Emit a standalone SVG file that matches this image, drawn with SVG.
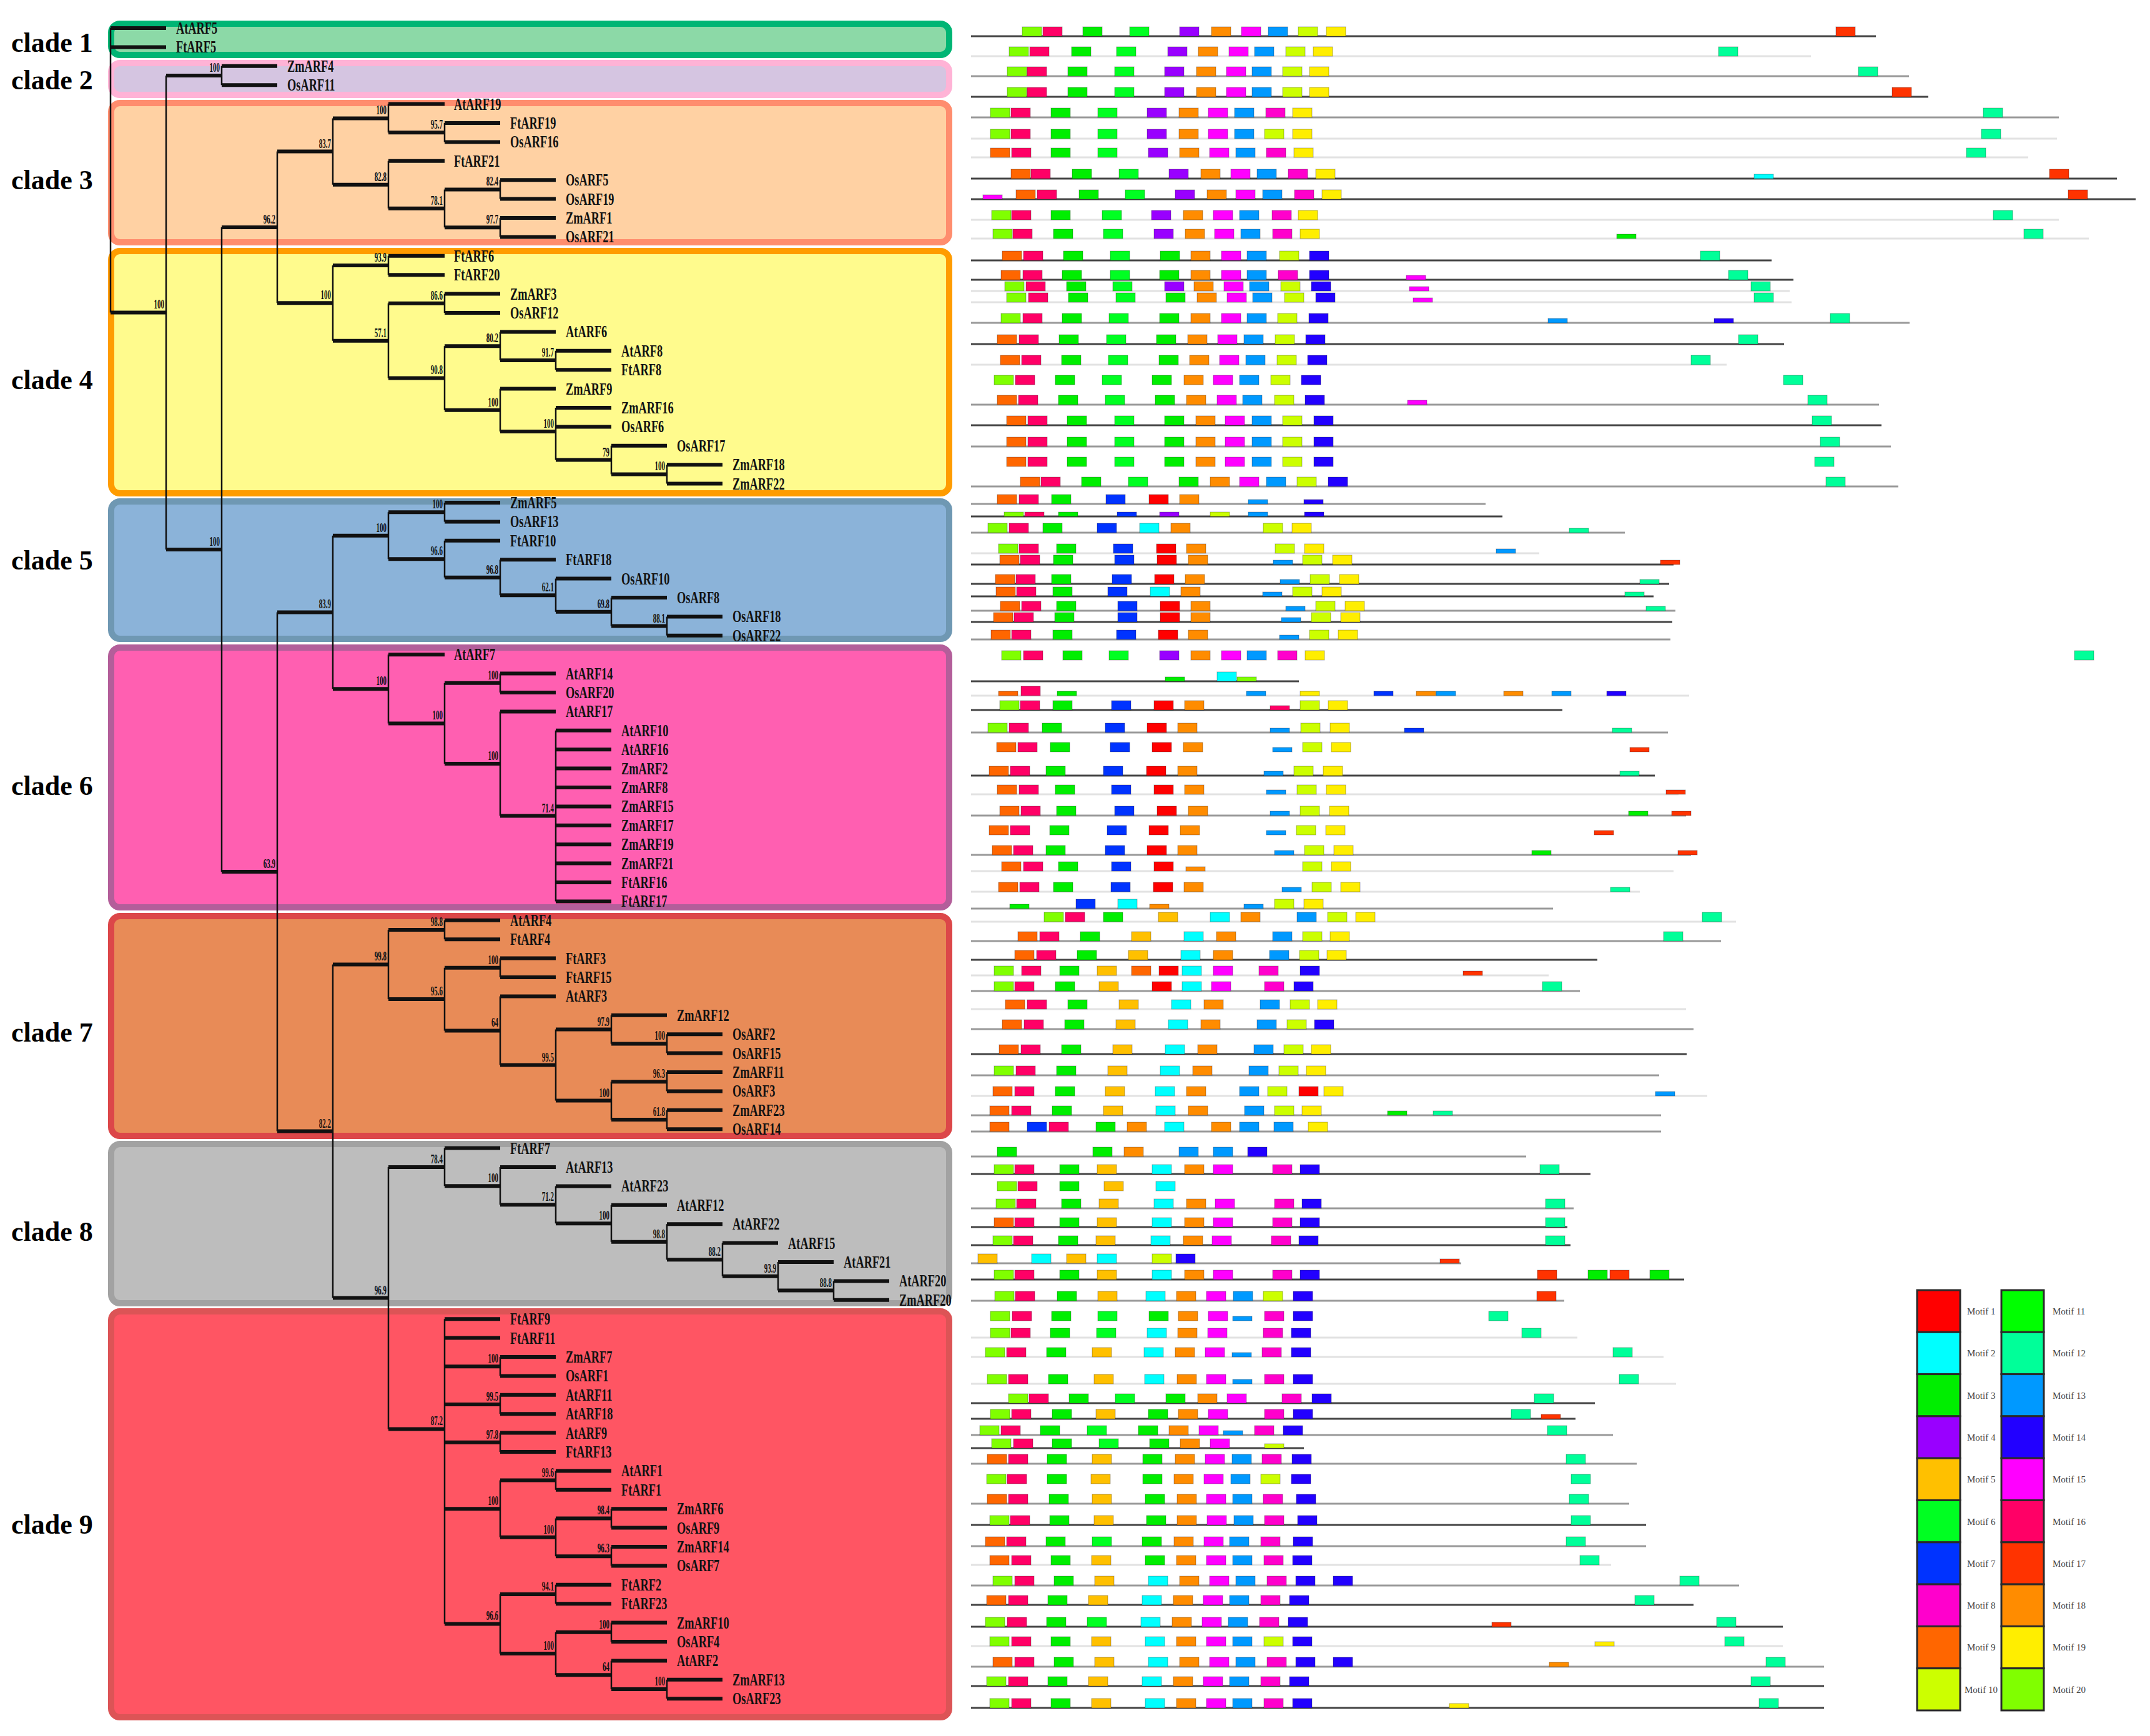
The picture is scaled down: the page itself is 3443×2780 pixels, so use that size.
<svg xmlns="http://www.w3.org/2000/svg" width="3443" height="2780" viewBox="0 0 3443 2780">
<style>
.cl{font:bold 44px "Liberation Serif",serif;fill:#000}
.lf text{font:bold 27px "Liberation Serif",serif;fill:#111}
.bs text{font:bold 22px "Liberation Serif",serif;fill:#111;text-anchor:end}
.lg text{font:15px "Liberation Serif",serif;fill:#444}
.lg rect{stroke:#2a2a2a;stroke-width:3}
.h{stroke:#111;stroke-width:6;fill:none}
.v{stroke:#111;stroke-width:2.5;fill:none}
.ld{stroke:#444;stroke-width:3;fill:none}
.lm{stroke:#999;stroke-width:3;fill:none}
.ll{stroke:#e2e2e2;stroke-width:3;fill:none}
.m rect{width:31px;height:15px;y:-15px;stroke:#000;stroke-opacity:.3;stroke-width:1}
.m rect.s{height:7px;y:-7px}
.c1{fill:#ff0000}.c2{fill:#00ffff}.c3{fill:#00ee00}.c4{fill:#9900ff}.c5{fill:#ffc000}.c6{fill:#00ff22}.c7{fill:#0033ff}.c8{fill:#ff00cc}.c9{fill:#ff6600}.c10{fill:#ccff00}.c11{fill:#00ff00}.c12{fill:#00ff99}.c13{fill:#0099ff}.c14{fill:#2200ff}.c15{fill:#ff00ff}.c16{fill:#ff0066}.c17{fill:#ff3300}.c18{fill:#ff8c00}.c19{fill:#ffee00}.c20{fill:#80ff00}
</style>
<rect width="3443" height="2780" fill="#fff"/>
<g id="clades">
<g id="clade1"><rect x="178" y="38" width="1342" height="50" rx="14" fill="#8cd9a7" stroke="#00b574" stroke-width="10"/><text class="cl" x="18" y="83">clade 1</text></g>
<g id="clade2"><rect x="178" y="101" width="1342" height="51" rx="14" fill="#d5c5e1" stroke="#ffb3d6" stroke-width="10"/><text class="cl" x="18" y="143">clade 2</text></g>
<g id="clade3"><rect x="178" y="165" width="1342" height="223" rx="14" fill="#ffd1a3" stroke="#ff8d6e" stroke-width="10"/><text class="cl" x="18" y="303">clade 3</text></g>
<g id="clade4"><rect x="178" y="402" width="1342" height="388" rx="14" fill="#fffb8d" stroke="#ff9c00" stroke-width="10"/><text class="cl" x="18" y="623">clade 4</text></g>
<g id="clade5"><rect x="178" y="803" width="1342" height="220" rx="14" fill="#8bb3d9" stroke="#6f98b3" stroke-width="10"/><text class="cl" x="18" y="912">clade 5</text></g>
<g id="clade6"><rect x="178" y="1037" width="1342" height="416" rx="14" fill="#ff5fb1" stroke="#b35e9a" stroke-width="10"/><text class="cl" x="18" y="1273">clade 6</text></g>
<g id="clade7"><rect x="178" y="1467" width="1342" height="352" rx="14" fill="#e88b57" stroke="#dc4749" stroke-width="10"/><text class="cl" x="18" y="1668">clade 7</text></g>
<g id="clade8"><rect x="178" y="1832" width="1342" height="255" rx="14" fill="#bdbdbd" stroke="#a2a2a2" stroke-width="10"/><text class="cl" x="18" y="1987">clade 8</text></g>
<g id="clade9"><rect x="178" y="2100" width="1342" height="650" rx="14" fill="#ff5563" stroke="#dc5456" stroke-width="10"/><text class="cl" x="18" y="2456">clade 9</text></g>
</g>
<g id="connectors">
<path class="v" d="M177 45V500.5M266 121V880M355 105.8V136.2M355 364V1396M444 242.6V485.3M533 189.4V295.8M622 166.6V212.2M712 197V227.4M622 257.8V333.8M712 303.4V364.2M801 288.2V318.6M801 349V379.4M533 425V545.7M622 409.8V440.2M622 485.8V605.5M712 470.6V501M712 554.2V656.8M801 531.4V577M890 561.8V592.2M801 622.6V691M890 653V736.6M979 713.8V759.4M1068 744.2V774.6M444 980.5V1811.6M533 857.7V1103.3M622 820.2V895.3M712 805V835.4M712 865.8V924.7M801 896.2V953.2M890 926.6V979.8M979 957V1002.6M1068 987.4V1017.8M622 1048.2V1158.4M712 1093.8V1223M801 1078.6V1109M801 1139.4V1306.6M890 1169.8V1443.4M533 1544.5V2078.6M622 1489V1600.1M712 1473.8V1504.2M712 1549.8V1650.5M801 1534.6V1565M801 1595.4V1705.6M890 1648.6V1762.6M979 1625.8V1671.4M1068 1656.2V1686.6M979 1732.2V1793M1068 1717V1747.4M1068 1777.8V1808.2M622 1868.9V2288.4M712 1838.6V1899.2M801 1869V1929.3M890 1899.4V1959.3M979 1929.8V1988.7M1068 1960.2V2017.2M1157 1990.6V2043.8M1246 2021V2066.6M1335 2051.4V2081.8M712 2112.2V2600.5M801 2173V2203.4M801 2233.8V2264.2M801 2294.6V2325M801 2370.6V2461.8M890 2355.4V2385.8M890 2431.4V2492.2M979 2416.2V2446.6M979 2477V2507.4M801 2553V2648M890 2537.8V2568.2M890 2613.8V2682.2M979 2598.6V2629M979 2659.4V2705M1068 2689.8V2720.2"/>
<path class="h" d="M177 500.5H266M266 121H355M266 880H355M355 364H444M444 242.6H533M533 189.4H622M622 212.2H712M533 295.8H622M622 333.8H712M712 303.4H801M712 364.2H801M444 485.3H533M533 425H622M533 545.7H622M622 485.8H712M622 605.5H712M712 554.2H801M801 577H890M712 656.8H801M801 691H890M890 736.6H979M979 759.4H1068M355 1396H444M444 980.5H533M533 857.7H622M622 820.2H712M622 895.3H712M712 924.7H801M801 953.2H890M890 979.8H979M979 1002.6H1068M533 1103.3H622M622 1158.4H712M712 1093.8H801M712 1223H801M801 1306.6H890M444 1811.6H533M533 1544.5H622M622 1489H712M622 1600.1H712M712 1549.8H801M712 1650.5H801M801 1705.6H890M890 1648.6H979M979 1671.4H1068M890 1762.6H979M979 1732.2H1068M979 1793H1068M533 2078.6H622M622 1868.9H712M712 1899.2H801M801 1929.3H890M890 1959.3H979M979 1988.7H1068M1068 2017.2H1157M1157 2043.8H1246M1246 2066.6H1335M622 2288.4H712M712 2188.2H801M712 2249H801M712 2309.8H801M712 2416.2H801M801 2370.6H890M801 2461.8H890M890 2431.4H979M890 2492.2H979M712 2600.5H801M801 2553H890M801 2648H890M890 2613.8H979M890 2682.2H979M979 2705H1068"/>
<path class="h" d="M177 45h89M177 75.4h89M355 105.8h89M355 136.2h89M622 166.6h90M712 197h89M712 227.4h89M622 257.8h90M801 288.2h89M801 318.6h89M801 349h89M801 379.4h89M622 409.8h90M622 440.2h90M712 470.6h89M712 501h89M801 531.4h89M890 561.8h89M890 592.2h89M801 622.6h89M890 653h89M890 683.4h89M979 713.8h89M1068 744.2h89M1068 774.6h89M712 805h89M712 835.4h89M712 865.8h89M801 896.2h89M890 926.6h89M979 957h89M1068 987.4h89M1068 1017.8h89M622 1048.2h90M801 1078.6h89M801 1109h89M801 1139.4h89M890 1169.8h89M890 1200.2h89M890 1230.6h89M890 1261h89M890 1291.4h89M890 1321.8h89M890 1352.2h89M890 1382.6h89M890 1413h89M890 1443.4h89M712 1473.8h89M712 1504.2h89M801 1534.6h89M801 1565h89M801 1595.4h89M979 1625.8h89M1068 1656.2h89M1068 1686.6h89M1068 1717h89M1068 1747.4h89M1068 1777.8h89M1068 1808.2h89M712 1838.6h89M801 1869h89M890 1899.4h89M979 1929.8h89M1068 1960.2h89M1157 1990.6h89M1246 2021h89M1335 2051.4h89M1335 2081.8h89M712 2112.2h89M712 2142.6h89M801 2173h89M801 2203.4h89M801 2233.8h89M801 2264.2h89M801 2294.6h89M801 2325h89M890 2355.4h89M890 2385.8h89M979 2416.2h89M979 2446.6h89M979 2477h89M979 2507.4h89M890 2537.8h89M890 2568.2h89M979 2598.6h89M979 2629h89M979 2659.4h89M1068 2689.8h89M1068 2720.2h89"/>
</g>
<g class="lf" id="leaves" transform="scale(.68 1)">
<g id="AtARF5"><text x="414.7" y="54">AtARF5</text></g>
<g id="FtARF5"><text x="414.7" y="84.4">FtARF5</text></g>
<g id="ZmARF4"><text x="676.5" y="114.8">ZmARF4</text></g>
<g id="OsARF11"><text x="676.5" y="145.2">OsARF11</text></g>
<g id="AtARF19"><text x="1069.1" y="175.6">AtARF19</text></g>
<g id="FtARF19"><text x="1201.5" y="206">FtARF19</text></g>
<g id="OsARF16"><text x="1201.5" y="236.4">OsARF16</text></g>
<g id="FtARF21"><text x="1069.1" y="266.8">FtARF21</text></g>
<g id="OsARF5"><text x="1332.4" y="297.2">OsARF5</text></g>
<g id="OsARF19"><text x="1332.4" y="327.6">OsARF19</text></g>
<g id="ZmARF1"><text x="1332.4" y="358">ZmARF1</text></g>
<g id="OsARF21"><text x="1332.4" y="388.4">OsARF21</text></g>
<g id="FtARF6"><text x="1069.1" y="418.8">FtARF6</text></g>
<g id="FtARF20"><text x="1069.1" y="449.2">FtARF20</text></g>
<g id="ZmARF3"><text x="1201.5" y="479.6">ZmARF3</text></g>
<g id="OsARF12"><text x="1201.5" y="510">OsARF12</text></g>
<g id="AtARF6"><text x="1332.4" y="540.4">AtARF6</text></g>
<g id="AtARF8"><text x="1463.2" y="570.8">AtARF8</text></g>
<g id="FtARF8"><text x="1463.2" y="601.2">FtARF8</text></g>
<g id="ZmARF9"><text x="1332.4" y="631.6">ZmARF9</text></g>
<g id="ZmARF16"><text x="1463.2" y="662">ZmARF16</text></g>
<g id="OsARF6"><text x="1463.2" y="692.4">OsARF6</text></g>
<g id="OsARF17"><text x="1594.1" y="722.8">OsARF17</text></g>
<g id="ZmARF18"><text x="1725" y="753.2">ZmARF18</text></g>
<g id="ZmARF22"><text x="1725" y="783.6">ZmARF22</text></g>
<g id="ZmARF5"><text x="1201.5" y="814">ZmARF5</text></g>
<g id="OsARF13"><text x="1201.5" y="844.4">OsARF13</text></g>
<g id="FtARF10"><text x="1201.5" y="874.8">FtARF10</text></g>
<g id="FtARF18"><text x="1332.4" y="905.2">FtARF18</text></g>
<g id="OsARF10"><text x="1463.2" y="935.6">OsARF10</text></g>
<g id="OsARF8"><text x="1594.1" y="966">OsARF8</text></g>
<g id="OsARF18"><text x="1725" y="996.4">OsARF18</text></g>
<g id="OsARF22"><text x="1725" y="1026.8">OsARF22</text></g>
<g id="AtARF7"><text x="1069.1" y="1057.2">AtARF7</text></g>
<g id="AtARF14"><text x="1332.4" y="1087.6">AtARF14</text></g>
<g id="OsARF20"><text x="1332.4" y="1118">OsARF20</text></g>
<g id="AtARF17"><text x="1332.4" y="1148.4">AtARF17</text></g>
<g id="AtARF10"><text x="1463.2" y="1178.8">AtARF10</text></g>
<g id="AtARF16"><text x="1463.2" y="1209.2">AtARF16</text></g>
<g id="ZmARF2"><text x="1463.2" y="1239.6">ZmARF2</text></g>
<g id="ZmARF8"><text x="1463.2" y="1270">ZmARF8</text></g>
<g id="ZmARF15"><text x="1463.2" y="1300.4">ZmARF15</text></g>
<g id="ZmARF17"><text x="1463.2" y="1330.8">ZmARF17</text></g>
<g id="ZmARF19"><text x="1463.2" y="1361.2">ZmARF19</text></g>
<g id="ZmARF21"><text x="1463.2" y="1391.6">ZmARF21</text></g>
<g id="FtARF16"><text x="1463.2" y="1422">FtARF16</text></g>
<g id="FtARF17"><text x="1463.2" y="1452.4">FtARF17</text></g>
<g id="AtARF4"><text x="1201.5" y="1482.8">AtARF4</text></g>
<g id="FtARF4"><text x="1201.5" y="1513.2">FtARF4</text></g>
<g id="FtARF3"><text x="1332.4" y="1543.6">FtARF3</text></g>
<g id="FtARF15"><text x="1332.4" y="1574">FtARF15</text></g>
<g id="AtARF3"><text x="1332.4" y="1604.4">AtARF3</text></g>
<g id="ZmARF12"><text x="1594.1" y="1634.8">ZmARF12</text></g>
<g id="OsARF2"><text x="1725" y="1665.2">OsARF2</text></g>
<g id="OsARF15"><text x="1725" y="1695.6">OsARF15</text></g>
<g id="ZmARF11"><text x="1725" y="1726">ZmARF11</text></g>
<g id="OsARF3"><text x="1725" y="1756.4">OsARF3</text></g>
<g id="ZmARF23"><text x="1725" y="1786.8">ZmARF23</text></g>
<g id="OsARF14"><text x="1725" y="1817.2">OsARF14</text></g>
<g id="FtARF7"><text x="1201.5" y="1847.6">FtARF7</text></g>
<g id="AtARF13"><text x="1332.4" y="1878">AtARF13</text></g>
<g id="AtARF23"><text x="1463.2" y="1908.4">AtARF23</text></g>
<g id="AtARF12"><text x="1594.1" y="1938.8">AtARF12</text></g>
<g id="AtARF22"><text x="1725" y="1969.2">AtARF22</text></g>
<g id="AtARF15"><text x="1855.9" y="1999.6">AtARF15</text></g>
<g id="AtARF21"><text x="1986.8" y="2030">AtARF21</text></g>
<g id="AtARF20"><text x="2117.6" y="2060.4">AtARF20</text></g>
<g id="ZmARF20"><text x="2117.6" y="2090.8">ZmARF20</text></g>
<g id="FtARF9"><text x="1201.5" y="2121.2">FtARF9</text></g>
<g id="FtARF11"><text x="1201.5" y="2151.6">FtARF11</text></g>
<g id="ZmARF7"><text x="1332.4" y="2182">ZmARF7</text></g>
<g id="OsARF1"><text x="1332.4" y="2212.4">OsARF1</text></g>
<g id="AtARF11"><text x="1332.4" y="2242.8">AtARF11</text></g>
<g id="AtARF18"><text x="1332.4" y="2273.2">AtARF18</text></g>
<g id="AtARF9"><text x="1332.4" y="2303.6">AtARF9</text></g>
<g id="FtARF13"><text x="1332.4" y="2334">FtARF13</text></g>
<g id="AtARF1"><text x="1463.2" y="2364.4">AtARF1</text></g>
<g id="FtARF1"><text x="1463.2" y="2394.8">FtARF1</text></g>
<g id="ZmARF6"><text x="1594.1" y="2425.2">ZmARF6</text></g>
<g id="OsARF9"><text x="1594.1" y="2455.6">OsARF9</text></g>
<g id="ZmARF14"><text x="1594.1" y="2486">ZmARF14</text></g>
<g id="OsARF7"><text x="1594.1" y="2516.4">OsARF7</text></g>
<g id="FtARF2"><text x="1463.2" y="2546.8">FtARF2</text></g>
<g id="FtARF23"><text x="1463.2" y="2577.2">FtARF23</text></g>
<g id="ZmARF10"><text x="1594.1" y="2607.6">ZmARF10</text></g>
<g id="OsARF4"><text x="1594.1" y="2638">OsARF4</text></g>
<g id="AtARF2"><text x="1594.1" y="2668.4">AtARF2</text></g>
<g id="ZmARF13"><text x="1725" y="2698.8">ZmARF13</text></g>
<g id="OsARF23"><text x="1725" y="2729.2">OsARF23</text></g>
</g>
<g class="bs" id="bootstrap" transform="scale(.5 1)">
<g id="b1"><text x="526" y="494.5">100</text></g>
<g id="b2"><text x="704" y="115">100</text></g>
<g id="b3"><text x="704" y="874">100</text></g>
<g id="b4"><text x="882" y="358">96.2</text></g>
<g id="b5"><text x="1060" y="236.6">83.7</text></g>
<g id="b6"><text x="1238" y="183.4">100</text></g>
<g id="b7"><text x="1418" y="206.2">95.7</text></g>
<g id="b8"><text x="1238" y="289.8">82.8</text></g>
<g id="b9"><text x="1418" y="327.8">78.1</text></g>
<g id="b10"><text x="1596" y="297.4">82.4</text></g>
<g id="b11"><text x="1596" y="358.2">97.7</text></g>
<g id="b12"><text x="1060" y="479.3">100</text></g>
<g id="b13"><text x="1238" y="419">93.9</text></g>
<g id="b14"><text x="1238" y="539.7">57.1</text></g>
<g id="b15"><text x="1418" y="479.8">86.6</text></g>
<g id="b16"><text x="1418" y="599.5">90.8</text></g>
<g id="b17"><text x="1596" y="548.2">80.2</text></g>
<g id="b18"><text x="1774" y="571">91.7</text></g>
<g id="b19"><text x="1596" y="650.8">100</text></g>
<g id="b20"><text x="1774" y="685">100</text></g>
<g id="b21"><text x="1952" y="730.6">79</text></g>
<g id="b22"><text x="2130" y="753.4">100</text></g>
<g id="b23"><text x="882" y="1390">63.9</text></g>
<g id="b24"><text x="1060" y="974.5">83.9</text></g>
<g id="b25"><text x="1238" y="851.7">100</text></g>
<g id="b26"><text x="1418" y="814.2">100</text></g>
<g id="b27"><text x="1418" y="889.3">96.6</text></g>
<g id="b28"><text x="1596" y="918.7">96.8</text></g>
<g id="b29"><text x="1774" y="947.2">62.1</text></g>
<g id="b30"><text x="1952" y="973.8">69.8</text></g>
<g id="b31"><text x="2130" y="996.6">88.1</text></g>
<g id="b32"><text x="1238" y="1097.3">100</text></g>
<g id="b33"><text x="1418" y="1152.4">100</text></g>
<g id="b34"><text x="1596" y="1087.8">100</text></g>
<g id="b35"><text x="1596" y="1217">100</text></g>
<g id="b36"><text x="1774" y="1300.6">71.4</text></g>
<g id="b37"><text x="1060" y="1805.6">82.2</text></g>
<g id="b38"><text x="1238" y="1538.5">99.8</text></g>
<g id="b39"><text x="1418" y="1483">98.8</text></g>
<g id="b40"><text x="1418" y="1594.1">95.6</text></g>
<g id="b41"><text x="1596" y="1543.8">100</text></g>
<g id="b42"><text x="1596" y="1644.5">64</text></g>
<g id="b43"><text x="1774" y="1699.6">99.5</text></g>
<g id="b44"><text x="1952" y="1642.6">97.9</text></g>
<g id="b45"><text x="2130" y="1665.4">100</text></g>
<g id="b46"><text x="1952" y="1756.6">100</text></g>
<g id="b47"><text x="2130" y="1726.2">96.3</text></g>
<g id="b48"><text x="2130" y="1787">61.8</text></g>
<g id="b49"><text x="1238" y="2072.6">96.9</text></g>
<g id="b50"><text x="1418" y="1862.9">78.4</text></g>
<g id="b51"><text x="1596" y="1893.2">100</text></g>
<g id="b52"><text x="1774" y="1923.3">71.2</text></g>
<g id="b53"><text x="1952" y="1953.3">100</text></g>
<g id="b54"><text x="2130" y="1982.7">98.8</text></g>
<g id="b55"><text x="2308" y="2011.2">88.2</text></g>
<g id="b56"><text x="2486" y="2037.8">93.9</text></g>
<g id="b57"><text x="2664" y="2060.6">88.8</text></g>
<g id="b58"><text x="1418" y="2282.4">87.2</text></g>
<g id="b59"><text x="1596" y="2182.2">100</text></g>
<g id="b60"><text x="1596" y="2243">99.5</text></g>
<g id="b61"><text x="1596" y="2303.8">97.8</text></g>
<g id="b62"><text x="1596" y="2410.2">100</text></g>
<g id="b63"><text x="1774" y="2364.6">99.6</text></g>
<g id="b64"><text x="1774" y="2455.8">100</text></g>
<g id="b65"><text x="1952" y="2425.4">98.4</text></g>
<g id="b66"><text x="1952" y="2486.2">96.3</text></g>
<g id="b67"><text x="1596" y="2594.5">96.6</text></g>
<g id="b68"><text x="1774" y="2547">94.1</text></g>
<g id="b69"><text x="1774" y="2642">100</text></g>
<g id="b70"><text x="1952" y="2607.8">100</text></g>
<g id="b71"><text x="1952" y="2676.2">64</text></g>
<g id="b72"><text x="2130" y="2699">100</text></g>
</g>
<g class="m" id="motifs">
<g id="r0" transform="translate(0,58)"><path class="ld" d="M1555 0H3004"/><rect class="c20" x="1637"/><rect class="c16" x="1670"/><rect class="c3" x="1734"/><rect class="c6" x="1809"/><rect class="c4" x="1889"/><rect class="c18" x="1940"/><rect class="c15" x="1988"/><rect class="c13" x="2031"/><rect class="c10" x="2079"/><rect class="c19" x="2124"/><rect class="c17" x="2940"/></g>
<g id="r1" transform="translate(0,90)"><path class="ll" d="M1555 0H2900"/><rect class="c20" x="1616"/><rect class="c16" x="1649"/><rect class="c3" x="1716"/><rect class="c6" x="1788"/><rect class="c4" x="1870"/><rect class="c18" x="1919"/><rect class="c15" x="1968"/><rect class="c13" x="2009"/><rect class="c10" x="2059"/><rect class="c19" x="2103"/><rect class="c12" x="2752"/></g>
<g id="r2" transform="translate(0,122)"><path class="lm" d="M1555 0H3057"/><rect class="c20" x="1613"/><rect class="c16" x="1645"/><rect class="c3" x="1710"/><rect class="c6" x="1785"/><rect class="c4" x="1865"/><rect class="c18" x="1916"/><rect class="c15" x="1964"/><rect class="c13" x="2005"/><rect class="c10" x="2054"/><rect class="c19" x="2097"/><rect class="c12" x="2976"/></g>
<g id="r3" transform="translate(0,155)"><path class="ld" d="M1555 0H3088"/><rect class="c20" x="1613"/><rect class="c16" x="1645"/><rect class="c3" x="1710"/><rect class="c6" x="1785"/><rect class="c4" x="1865"/><rect class="c18" x="1916"/><rect class="c15" x="1964"/><rect class="c13" x="2005"/><rect class="c10" x="2054"/><rect class="c19" x="2097"/><rect class="c17" x="3030"/></g>
<g id="r4" transform="translate(0,188)"><path class="lm" d="M1555 0H3297"/><rect class="c20" x="1586"/><rect class="c16" x="1619"/><rect class="c3" x="1683"/><rect class="c6" x="1758"/><rect class="c4" x="1837"/><rect class="c18" x="1888"/><rect class="c15" x="1935"/><rect class="c13" x="1977"/><rect class="c8" x="2027"/><rect class="c19" x="2070"/><rect class="c12" x="3176"/></g>
<g id="r5" transform="translate(0,222)"><path class="ll" d="M1555 0H3294"/><rect class="c20" x="1586"/><rect class="c16" x="1619"/><rect class="c3" x="1683"/><rect class="c6" x="1758"/><rect class="c4" x="1837"/><rect class="c18" x="1888"/><rect class="c15" x="1935"/><rect class="c13" x="1977"/><rect class="c10" x="2025"/><rect class="c19" x="2070"/><rect class="c12" x="3173"/></g>
<g id="r6" transform="translate(0,252)"><path class="ll" d="M1555 0H3248"/><rect class="c9" x="1586"/><rect class="c16" x="1620"/><rect class="c3" x="1683"/><rect class="c6" x="1758"/><rect class="c4" x="1839"/><rect class="c18" x="1889"/><rect class="c15" x="1937"/><rect class="c13" x="1979"/><rect class="c8" x="2028"/><rect class="c19" x="2072"/><rect class="c12" x="3149"/></g>
<g id="r7" transform="translate(0,286)"><path class="ld" d="M1555 0H3390"/><rect class="c9" x="1619"/><rect class="c16" x="1651"/><rect class="c3" x="1717"/><rect class="c6" x="1792"/><rect class="c4" x="1872"/><rect class="c18" x="1923"/><rect class="c15" x="1971"/><rect class="c13" x="2013"/><rect class="c8" x="2063"/><rect class="c19" x="2107"/><rect class="c2 s" x="2809"/><rect class="c17" x="3282"/></g>
<g id="r8" transform="translate(0,319)"><path class="ld" d="M1555 0H3420"/><rect class="c15 s" x="1574"/><rect class="c9" x="1627"/><rect class="c16" x="1661"/><rect class="c3" x="1728"/><rect class="c6" x="1802"/><rect class="c4" x="1882"/><rect class="c18" x="1933"/><rect class="c15" x="1979"/><rect class="c13" x="2022"/><rect class="c8" x="2073"/><rect class="c19" x="2117"/><rect class="c17" x="3312"/></g>
<g id="r9" transform="translate(0,352)"><path class="ll" d="M1555 0H3297"/><rect class="c20" x="1588"/><rect class="c16" x="1620"/><rect class="c3" x="1683"/><rect class="c6" x="1765"/><rect class="c4" x="1844"/><rect class="c18" x="1895"/><rect class="c15" x="1943"/><rect class="c13" x="1985"/><rect class="c8" x="2037"/><rect class="c19" x="2079"/><rect class="c12" x="3192"/></g>
<g id="r10" transform="translate(0,382)"><path class="ll" d="M1555 0H3345"/><rect class="c20" x="1590"/><rect class="c16" x="1622"/><rect class="c3" x="1687"/><rect class="c6" x="1767"/><rect class="c4" x="1848"/><rect class="c18" x="1898"/><rect class="c15" x="1945"/><rect class="c13" x="1987"/><rect class="c8" x="2038"/><rect class="c19" x="2082"/><rect class="c3 s" x="2589"/><rect class="c12" x="3241"/></g>
<g id="r11" transform="translate(0,417)"><path class="ld" d="M1555 0H2837"/><rect class="c9" x="1605"/><rect class="c16" x="1639"/><rect class="c3" x="1703"/><rect class="c6" x="1778"/><rect class="c3" x="1858"/><rect class="c18" x="1907"/><rect class="c15" x="1956"/><rect class="c13" x="1997"/><rect class="c10" x="2049"/><rect class="c14" x="2097"/><rect class="c12" x="2723"/></g>
<g id="r12" transform="translate(0,448)"><path class="ld" d="M1555 0H2872"/><rect class="c9" x="1603"/><rect class="c16" x="1638"/><rect class="c3" x="1701"/><rect class="c6" x="1778"/><rect class="c3" x="1857"/><rect class="c18" x="1907"/><rect class="c15" x="1956"/><rect class="c13" x="1997"/><rect class="c8" x="2047"/><rect class="c14" x="2097"/><rect class="c15 s" x="2252"/><rect class="c12" x="2768"/></g>
<g id="r13" transform="translate(0,466)"><path class="ll" d="M1555 0H2866"/><rect class="c20" x="1609"/><rect class="c16" x="1643"/><rect class="c3" x="1708"/><rect class="c6" x="1782"/><rect class="c4" x="1865"/><rect class="c18" x="1912"/><rect class="c15" x="1960"/><rect class="c13" x="2001"/><rect class="c10" x="2051"/><rect class="c14" x="2100"/><rect class="c15 s" x="2257"/><rect class="c12" x="2804"/></g>
<g id="r14" transform="translate(0,484)"><path class="ll" d="M1555 0H2869"/><rect class="c20" x="1612"/><rect class="c16" x="1647"/><rect class="c3" x="1711"/><rect class="c6" x="1787"/><rect class="c3" x="1867"/><rect class="c18" x="1917"/><rect class="c15" x="1965"/><rect class="c13" x="2006"/><rect class="c10" x="2057"/><rect class="c14" x="2107"/><rect class="c15 s" x="2263"/><rect class="c12" x="2809"/></g>
<g id="r15" transform="translate(0,517)"><path class="lm" d="M1555 0H3058"/><rect class="c20" x="1603"/><rect class="c16" x="1638"/><rect class="c3" x="1701"/><rect class="c6" x="1776"/><rect class="c3" x="1857"/><rect class="c18" x="1907"/><rect class="c15" x="1956"/><rect class="c13" x="1997"/><rect class="c10" x="2046"/><rect class="c14" x="2096"/><rect class="c13 s" x="2479"/><rect class="c14 s" x="2745"/><rect class="c12" x="2931"/></g>
<g id="r16" transform="translate(0,551)"><path class="ld" d="M1555 0H2857"/><rect class="c9" x="1597"/><rect class="c16" x="1632"/><rect class="c3" x="1696"/><rect class="c6" x="1772"/><rect class="c3" x="1852"/><rect class="c18" x="1902"/><rect class="c15" x="1950"/><rect class="c13" x="1992"/><rect class="c10" x="2042"/><rect class="c14" x="2091"/><rect class="c12" x="2784"/></g>
<g id="r17" transform="translate(0,584)"><path class="ll" d="M1555 0H2765"/><rect class="c9" x="1602"/><rect class="c16" x="1636"/><rect class="c3" x="1700"/><rect class="c6" x="1775"/><rect class="c3" x="1856"/><rect class="c18" x="1905"/><rect class="c15" x="1953"/><rect class="c13" x="1995"/><rect class="c10" x="2045"/><rect class="c14" x="2094"/><rect class="c12" x="2708"/></g>
<g id="r18" transform="translate(0,616)"><rect class="c20" x="1592"/><rect class="c16" x="1626"/><rect class="c3" x="1690"/><rect class="c6" x="1765"/><rect class="c3" x="1845"/><rect class="c18" x="1896"/><rect class="c15" x="1943"/><rect class="c13" x="1985"/><rect class="c10" x="2035"/><rect class="c14" x="2084"/><rect class="c12" x="2856"/></g>
<g id="r19" transform="translate(0,648)"><path class="lm" d="M1555 0H3009"/><rect class="c9" x="1597"/><rect class="c16" x="1631"/><rect class="c3" x="1695"/><rect class="c6" x="1770"/><rect class="c3" x="1850"/><rect class="c18" x="1900"/><rect class="c15" x="1949"/><rect class="c13" x="1990"/><rect class="c10" x="2041"/><rect class="c14" x="2090"/><rect class="c15 s" x="2254"/><rect class="c12" x="2895"/></g>
<g id="r20" transform="translate(0,681)"><path class="ld" d="M1555 0H3013"/><rect class="c9" x="1612"/><rect class="c16" x="1646"/><rect class="c3" x="1709"/><rect class="c6" x="1785"/><rect class="c3" x="1865"/><rect class="c18" x="1915"/><rect class="c15" x="1962"/><rect class="c13" x="2005"/><rect class="c10" x="2054"/><rect class="c14" x="2104"/><rect class="c12" x="2902"/></g>
<g id="r21" transform="translate(0,715)"><path class="lm" d="M1555 0H3028"/><rect class="c9" x="1612"/><rect class="c16" x="1646"/><rect class="c3" x="1709"/><rect class="c6" x="1785"/><rect class="c3" x="1865"/><rect class="c18" x="1915"/><rect class="c15" x="1962"/><rect class="c13" x="2005"/><rect class="c10" x="2054"/><rect class="c14" x="2104"/><rect class="c12" x="2915"/></g>
<g id="r22" transform="translate(0,747)"><rect class="c9" x="1612"/><rect class="c16" x="1646"/><rect class="c3" x="1709"/><rect class="c6" x="1785"/><rect class="c3" x="1865"/><rect class="c18" x="1915"/><rect class="c15" x="1962"/><rect class="c13" x="2005"/><rect class="c10" x="2054"/><rect class="c14" x="2104"/><rect class="c12" x="2906"/></g>
<g id="r23" transform="translate(0,779)"><path class="lm" d="M1555 0H3040"/><rect class="c9" x="1634"/><rect class="c16" x="1667"/><rect class="c3" x="1732"/><rect class="c6" x="1807"/><rect class="c3" x="1888"/><rect class="c18" x="1938"/><rect class="c15" x="1985"/><rect class="c13" x="2028"/><rect class="c10" x="2077"/><rect class="c14" x="2127"/><rect class="c12" x="2924"/></g>
<g id="r24" transform="translate(0,807)"><path class="lm" d="M1555 0H2379"/><rect class="c9" x="1597"/><rect class="c16" x="1632"/><rect class="c3" x="1684"/><rect class="c7" x="1771"/><rect class="c1" x="1840"/><rect class="c18" x="1889"/><rect class="c13 s" x="1999"/><rect class="c14 s" x="2088"/></g>
<g id="r25" transform="translate(0,827)"><path class="ld" d="M1555 0H2406"/><rect class="c20 s" x="1608"/><rect class="c16 s" x="1641"/><rect class="c3 s" x="1695"/><rect class="c7 s" x="1789"/><rect class="c4 s" x="1857"/><rect class="c10 s" x="1938"/><rect class="c13 s" x="1999"/><rect class="c14 s" x="2089"/></g>
<g id="r26" transform="translate(0,853)"><path class="lm" d="M1555 0H2602"/><rect class="c20" x="1582"/><rect class="c16" x="1616"/><rect class="c3" x="1670"/><rect class="c7" x="1757"/><rect class="c2" x="1825"/><rect class="c18" x="1875"/><rect class="c10" x="2023"/><rect class="c19" x="2069"/><rect class="c12 s" x="2513"/></g>
<g id="r27" transform="translate(0,886)"><path class="ll" d="M1555 0H2465"/><rect class="c20" x="1599"/><rect class="c16" x="1632"/><rect class="c3" x="1692"/><rect class="c7" x="1783"/><rect class="c1" x="1852"/><rect class="c18" x="1900"/><rect class="c10" x="2042"/><rect class="c19" x="2089"/><rect class="c13 s" x="2396"/></g>
<g id="r28" transform="translate(0,904)"><path class="ld" d="M1555 0H2680"/><rect class="c9" x="1601"/><rect class="c16" x="1634"/><rect class="c3" x="1687"/><rect class="c7" x="1785"/><rect class="c1" x="1853"/><rect class="c18" x="1903"/><rect class="c13 s" x="2039"/><rect class="c10" x="2086"/><rect class="c19" x="2134"/><rect class="c17 s" x="2659"/></g>
<g id="r29" transform="translate(0,935)"><path class="ld" d="M1555 0H2673"/><rect class="c9" x="1594"/><rect class="c16" x="1627"/><rect class="c3" x="1684"/><rect class="c7" x="1781"/><rect class="c1" x="1849"/><rect class="c18" x="1898"/><rect class="c13 s" x="2050"/><rect class="c10" x="2098"/><rect class="c19" x="2145"/><rect class="c12 s" x="2626"/></g>
<g id="r30" transform="translate(0,955)"><path class="ld" d="M1555 0H2648"/><rect class="c9" x="1595"/><rect class="c16" x="1628"/><rect class="c3" x="1686"/><rect class="c7" x="1774"/><rect class="c2" x="1842"/><rect class="c18" x="1891"/><rect class="c13 s" x="2022"/><rect class="c10" x="2070"/><rect class="c19" x="2117"/><rect class="c12 s" x="2602"/></g>
<g id="r31" transform="translate(0,978)"><path class="lm" d="M1555 0H2683"/><rect class="c9" x="1602"/><rect class="c16" x="1636"/><rect class="c3" x="1692"/><rect class="c7" x="1790"/><rect class="c1" x="1858"/><rect class="c18" x="1907"/><rect class="c13 s" x="2059"/><rect class="c10" x="2107"/><rect class="c19" x="2154"/><rect class="c12 s" x="2636"/></g>
<g id="r32" transform="translate(0,996)"><path class="ld" d="M1555 0H2678"/><rect class="c9" x="1591"/><rect class="c16" x="1624"/><rect class="c3" x="1689"/><rect class="c7" x="1790"/><rect class="c1" x="1858"/><rect class="c18" x="1907"/><rect class="c13 s" x="2052"/><rect class="c10" x="2100"/><rect class="c19" x="2147"/></g>
<g id="r33" transform="translate(0,1024)"><path class="lm" d="M1555 0H2675"/><rect class="c9" x="1587"/><rect class="c16" x="1620"/><rect class="c3" x="1686"/><rect class="c7" x="1788"/><rect class="c1" x="1855"/><rect class="c18" x="1903"/><rect class="c13 s" x="2049"/><rect class="c10" x="2097"/><rect class="c19" x="2143"/></g>
<g id="r34" transform="translate(0,1057)"><rect class="c20" x="1604"/><rect class="c16" x="1639"/><rect class="c3" x="1702"/><rect class="c6" x="1776"/><rect class="c4" x="1857"/><rect class="c18" x="1907"/><rect class="c15" x="1956"/><rect class="c13" x="1997"/><rect class="c8" x="2046"/><rect class="c19" x="2090"/><rect class="c12" x="3322"/></g>
<g id="r35" transform="translate(0,1091)"><path class="ld" d="M1555 0H2080"/><rect class="c3 s" x="1866"/><rect class="c2" x="1949"/><rect class="c20 s" x="1981"/></g>
<g id="r36" transform="translate(0,1114)"><path class="ll" d="M1555 0H2705"/><rect class="c9 s" x="1599"/><rect class="c16" x="1635"/><rect class="c3 s" x="1693"/><rect class="c13 s" x="1996"/><rect class="c19 s" x="2082"/><rect class="c7 s" x="2200"/><rect class="c18 s" x="2268"/><rect class="c13 s" x="2300"/><rect class="c18 s" x="2408"/><rect class="c13 s" x="2485"/><rect class="c14 s" x="2573"/></g>
<g id="r37" transform="translate(0,1137)"><path class="ld" d="M1555 0H2502"/><rect class="c20" x="1601"/><rect class="c16" x="1634"/><rect class="c3" x="1686"/><rect class="c7" x="1780"/><rect class="c1" x="1848"/><rect class="c18" x="1897"/><rect class="c16 s" x="2034"/><rect class="c10" x="2082"/><rect class="c19" x="2127"/></g>
<g id="r38" transform="translate(0,1173)"><path class="lm" d="M1555 0H2671"/><rect class="c20" x="1582"/><rect class="c16" x="1616"/><rect class="c3" x="1669"/><rect class="c7" x="1770"/><rect class="c1" x="1837"/><rect class="c18" x="1886"/><rect class="c13 s" x="2034"/><rect class="c10" x="2083"/><rect class="c19" x="2130"/><rect class="c7 s" x="2249"/><rect class="c12 s" x="2582"/></g>
<g id="r39" transform="translate(0,1204)"><rect class="c9" x="1596"/><rect class="c16" x="1630"/><rect class="c3" x="1682"/><rect class="c7" x="1778"/><rect class="c1" x="1845"/><rect class="c18" x="1895"/><rect class="c13 s" x="2038"/><rect class="c10" x="2086"/><rect class="c19" x="2132"/><rect class="c17 s" x="2610"/></g>
<g id="r40" transform="translate(0,1242)"><path class="ld" d="M1555 0H2650"/><rect class="c9" x="1584"/><rect class="c16" x="1618"/><rect class="c3" x="1675"/><rect class="c7" x="1767"/><rect class="c1" x="1836"/><rect class="c18" x="1886"/><rect class="c13 s" x="2024"/><rect class="c10" x="2072"/><rect class="c19" x="2119"/><rect class="c12 s" x="2594"/></g>
<g id="r41" transform="translate(0,1272)"><path class="ll" d="M1555 0H2688"/><rect class="c9" x="1597"/><rect class="c16" x="1632"/><rect class="c3" x="1690"/><rect class="c7" x="1780"/><rect class="c1" x="1848"/><rect class="c18" x="1897"/><rect class="c13 s" x="2028"/><rect class="c10" x="2077"/><rect class="c19" x="2124"/><rect class="c17 s" x="2668"/></g>
<g id="r42" transform="translate(0,1306)"><path class="lm" d="M1555 0H2700"/><rect class="c9" x="1601"/><rect class="c16" x="1635"/><rect class="c3" x="1692"/><rect class="c7" x="1785"/><rect class="c1" x="1853"/><rect class="c18" x="1903"/><rect class="c13 s" x="2034"/><rect class="c10" x="2082"/><rect class="c19" x="2129"/><rect class="c3 s" x="2608"/><rect class="c17 s" x="2677"/></g>
<g id="r43" transform="translate(0,1337)"><rect class="c9" x="1584"/><rect class="c16" x="1618"/><rect class="c3" x="1681"/><rect class="c7" x="1773"/><rect class="c1" x="1840"/><rect class="c18" x="1890"/><rect class="c13 s" x="2028"/><rect class="c10" x="2076"/><rect class="c19" x="2123"/><rect class="c17 s" x="2553"/></g>
<g id="r44" transform="translate(0,1369)"><path class="lm" d="M1555 0H2708"/><rect class="c9" x="1589"/><rect class="c16" x="1623"/><rect class="c3" x="1675"/><rect class="c7" x="1770"/><rect class="c1" x="1837"/><rect class="c18" x="1886"/><rect class="c13 s" x="2041"/><rect class="c10" x="2089"/><rect class="c19" x="2136"/><rect class="c3 s" x="2453"/><rect class="c17 s" x="2687"/></g>
<g id="r45" transform="translate(0,1395)"><path class="ll" d="M1555 0H2680"/><rect class="c9" x="1604"/><rect class="c16" x="1639"/><rect class="c3" x="1695"/><rect class="c7" x="1780"/><rect class="c1" x="1848"/><rect class="c18 s" x="1899"/><rect class="c10" x="2086"/><rect class="c19" x="2132"/></g>
<g id="r46" transform="translate(0,1428)"><path class="ll" d="M1555 0H2626"/><rect class="c9" x="1599"/><rect class="c16" x="1633"/><rect class="c3" x="1687"/><rect class="c7" x="1779"/><rect class="c1" x="1847"/><rect class="c18" x="1896"/><rect class="c13 s" x="2053"/><rect class="c10" x="2101"/><rect class="c19" x="2147"/><rect class="c12 s" x="2579"/></g>
<g id="r47" transform="translate(0,1455)"><path class="lm" d="M1555 0H2487"/><rect class="c3 s" x="1617"/><rect class="c7" x="1723"/><rect class="c2" x="1790"/><rect class="c18 s" x="1841"/><rect class="c13 s" x="1992"/><rect class="c10" x="2041"/><rect class="c19" x="2088"/></g>
<g id="r48" transform="translate(0,1476)"><path class="ll" d="M1555 0H2780"/><rect class="c20" x="1672"/><rect class="c16" x="1706"/><rect class="c3" x="1767"/><rect class="c5" x="1855"/><rect class="c2" x="1938"/><rect class="c18" x="1987"/><rect class="c13" x="2077"/><rect class="c10" x="2126"/><rect class="c19" x="2171"/><rect class="c12" x="2726"/></g>
<g id="r49" transform="translate(0,1507)"><path class="lm" d="M1555 0H2756"/><rect class="c9" x="1630"/><rect class="c16" x="1665"/><rect class="c3" x="1730"/><rect class="c5" x="1812"/><rect class="c2" x="1896"/><rect class="c18" x="1948"/><rect class="c13" x="2038"/><rect class="c10" x="2086"/><rect class="c19" x="2130"/><rect class="c12" x="2664"/></g>
<g id="r50" transform="translate(0,1537)"><path class="ld" d="M1555 0H2558"/><rect class="c9" x="1625"/><rect class="c16" x="1660"/><rect class="c3" x="1725"/><rect class="c5" x="1807"/><rect class="c2" x="1891"/><rect class="c18" x="1943"/><rect class="c13" x="2033"/><rect class="c10" x="2081"/><rect class="c19" x="2125"/></g>
<g id="r51" transform="translate(0,1562)"><path class="ll" d="M1555 0H2480"/><rect class="c20" x="1592"/><rect class="c16" x="1636"/><rect class="c3" x="1697"/><rect class="c5" x="1757"/><rect class="c9" x="1812"/><rect class="c1" x="1856"/><rect class="c2" x="1893"/><rect class="c15" x="1943"/><rect class="c8" x="2016"/><rect class="c14" x="2082"/><rect class="c17 s" x="2343"/></g>
<g id="r52" transform="translate(0,1587)"><path class="lm" d="M1555 0H2530"/><rect class="c20" x="1592"/><rect class="c16" x="1625"/><rect class="c3" x="1690"/><rect class="c5" x="1760"/><rect class="c1" x="1845"/><rect class="c2" x="1893"/><rect class="c15" x="1940"/><rect class="c8" x="2025"/><rect class="c14" x="2072"/><rect class="c12" x="2470"/></g>
<g id="r53" transform="translate(0,1616)"><path class="ll" d="M1555 0H2700"/><rect class="c9" x="1610"/><rect class="c16" x="1645"/><rect class="c3" x="1710"/><rect class="c5" x="1792"/><rect class="c2" x="1876"/><rect class="c18" x="1928"/><rect class="c13" x="2018"/><rect class="c10" x="2066"/><rect class="c19" x="2110"/></g>
<g id="r54" transform="translate(0,1648)"><path class="lm" d="M1555 0H2712"/><rect class="c9" x="1605"/><rect class="c16" x="1640"/><rect class="c3" x="1705"/><rect class="c5" x="1787"/><rect class="c2" x="1871"/><rect class="c18" x="1923"/><rect class="c13" x="2013"/><rect class="c10" x="2061"/><rect class="c14" x="2105"/></g>
<g id="r55" transform="translate(0,1688)"><path class="ld" d="M1555 0H2701"/><rect class="c9" x="1600"/><rect class="c16" x="1635"/><rect class="c3" x="1700"/><rect class="c5" x="1782"/><rect class="c2" x="1866"/><rect class="c18" x="1918"/><rect class="c13" x="2008"/><rect class="c10" x="2056"/><rect class="c19" x="2100"/></g>
<g id="r56" transform="translate(0,1722)"><path class="lm" d="M1555 0H2657"/><rect class="c20" x="1592"/><rect class="c16" x="1627"/><rect class="c3" x="1692"/><rect class="c5" x="1774"/><rect class="c2" x="1858"/><rect class="c18" x="1910"/><rect class="c13" x="2000"/><rect class="c10" x="2048"/><rect class="c19" x="2092"/></g>
<g id="r57" transform="translate(0,1755)"><path class="ll" d="M1555 0H2734"/><rect class="c9" x="1590"/><rect class="c16" x="1625"/><rect class="c3" x="1690"/><rect class="c5" x="1770"/><rect class="c2" x="1850"/><rect class="c18" x="1900"/><rect class="c13" x="1985"/><rect class="c10" x="2030"/><rect class="c1" x="2080"/><rect class="c19" x="2120"/><rect class="c13 s" x="2651"/></g>
<g id="r58" transform="translate(0,1786)"><path class="lm" d="M1555 0H2660"/><rect class="c9" x="1585"/><rect class="c16" x="1620"/><rect class="c3" x="1685"/><rect class="c5" x="1767"/><rect class="c2" x="1851"/><rect class="c18" x="1903"/><rect class="c13" x="1993"/><rect class="c10" x="2041"/><rect class="c19" x="2085"/><rect class="c3 s" x="2222"/><rect class="c12 s" x="2295"/></g>
<g id="r59" transform="translate(0,1812)"><path class="lm" d="M1555 0H2660"/><rect class="c9" x="1585"/><rect class="c7" x="1645"/><rect class="c16" x="1680"/><rect class="c3" x="1755"/><rect class="c18" x="1805"/><rect class="c2" x="1865"/><rect class="c18" x="1940"/><rect class="c13" x="1985"/><rect class="c13" x="2040"/><rect class="c19" x="2095"/></g>
<g id="r60" transform="translate(0,1852)"><path class="lm" d="M1555 0H2444"/><rect class="c3" x="1597"/><rect class="c3" x="1750"/><rect class="c18" x="1800"/><rect class="c13" x="1888"/><rect class="c13" x="1943"/><rect class="c14" x="1998"/></g>
<g id="r61" transform="translate(0,1880)"><path class="ld" d="M1555 0H2547"/><rect class="c20" x="1592"/><rect class="c16" x="1625"/><rect class="c3" x="1697"/><rect class="c5" x="1757"/><rect class="c2" x="1845"/><rect class="c18" x="1897"/><rect class="c15" x="1943"/><rect class="c8" x="2038"/><rect class="c14" x="2082"/><rect class="c12" x="2466"/></g>
<g id="r62" transform="translate(0,1907)"><rect class="c20" x="1597"/><rect class="c16" x="1630"/><rect class="c3" x="1697"/><rect class="c5" x="1768"/><rect class="c2" x="1851"/></g>
<g id="r63" transform="translate(0,1935)"><path class="lm" d="M1555 0H2520"/><rect class="c20" x="1595"/><rect class="c16" x="1628"/><rect class="c3" x="1700"/><rect class="c5" x="1760"/><rect class="c2" x="1848"/><rect class="c18" x="1900"/><rect class="c15" x="1946"/><rect class="c8" x="2041"/><rect class="c14" x="2085"/><rect class="c12" x="2475"/></g>
<g id="r64" transform="translate(0,1965)"><path class="ld" d="M1555 0H2510"/><rect class="c9" x="1592"/><rect class="c16" x="1625"/><rect class="c3" x="1697"/><rect class="c5" x="1757"/><rect class="c2" x="1845"/><rect class="c18" x="1897"/><rect class="c15" x="1943"/><rect class="c8" x="2038"/><rect class="c14" x="2082"/><rect class="c12" x="2475"/></g>
<g id="r65" transform="translate(0,1994)"><path class="ld" d="M1555 0H2515"/><rect class="c20" x="1590"/><rect class="c16" x="1623"/><rect class="c3" x="1695"/><rect class="c5" x="1755"/><rect class="c2" x="1843"/><rect class="c18" x="1895"/><rect class="c15" x="1941"/><rect class="c8" x="2036"/><rect class="c14" x="2080"/><rect class="c12" x="2475"/></g>
<g id="r66" transform="translate(0,2023)"><path class="lm" d="M1555 0H2340"/><rect class="c5" x="1566"/><rect class="c2" x="1652"/><rect class="c5" x="1708"/><rect class="c2" x="1757"/><rect class="c10" x="1845"/><rect class="c14" x="1883"/><rect class="c17 s" x="2306"/></g>
<g id="r67" transform="translate(0,2049)"><path class="ld" d="M1555 0H2697"/><rect class="c20" x="1592"/><rect class="c16" x="1625"/><rect class="c3" x="1697"/><rect class="c5" x="1757"/><rect class="c2" x="1845"/><rect class="c18" x="1897"/><rect class="c15" x="1943"/><rect class="c8" x="2038"/><rect class="c14" x="2082"/><rect class="c17" x="2462"/><rect class="c3" x="2543"/><rect class="c17" x="2578"/><rect class="c3" x="2642"/></g>
<g id="r68" transform="translate(0,2083)"><path class="lm" d="M1555 0H2505"/><rect class="c20" x="1593"/><rect class="c16" x="1626"/><rect class="c3" x="1693"/><rect class="c5" x="1758"/><rect class="c2" x="1835"/><rect class="c18" x="1884"/><rect class="c15" x="1932"/><rect class="c13" x="1975"/><rect class="c10" x="2023"/><rect class="c14" x="2071"/><rect class="c17" x="2461"/></g>
<g id="r69" transform="translate(0,2115)"><rect class="c20" x="1586"/><rect class="c16" x="1621"/><rect class="c3" x="1684"/><rect class="c6" x="1758"/><rect class="c3" x="1840"/><rect class="c18" x="1887"/><rect class="c15" x="1935"/><rect class="c13 s" x="1974"/><rect class="c8" x="2025"/><rect class="c14" x="2071"/><rect class="c12" x="2384"/></g>
<g id="r70" transform="translate(0,2142)"><path class="ll" d="M1555 0H2526"/><rect class="c20" x="1586"/><rect class="c16" x="1619"/><rect class="c3" x="1682"/><rect class="c6" x="1756"/><rect class="c2" x="1837"/><rect class="c18" x="1886"/><rect class="c15" x="1934"/><rect class="c8" x="2023"/><rect class="c14" x="2068"/><rect class="c12" x="2437"/></g>
<g id="r71" transform="translate(0,2173)"><path class="ll" d="M1555 0H2664"/><rect class="c20" x="1578"/><rect class="c16" x="1612"/><rect class="c3" x="1676"/><rect class="c5" x="1749"/><rect class="c2" x="1832"/><rect class="c18" x="1882"/><rect class="c15" x="1930"/><rect class="c13 s" x="1973"/><rect class="c8" x="2021"/><rect class="c14" x="2068"/><rect class="c12" x="2583"/></g>
<g id="r72" transform="translate(0,2216)"><path class="ll" d="M1555 0H2684"/><rect class="c20" x="1581"/><rect class="c16" x="1615"/><rect class="c3" x="1679"/><rect class="c5" x="1752"/><rect class="c2" x="1833"/><rect class="c18" x="1885"/><rect class="c15" x="1932"/><rect class="c13 s" x="1974"/><rect class="c8" x="2025"/><rect class="c14" x="2071"/><rect class="c12" x="2593"/></g>
<g id="r73" transform="translate(0,2247)"><path class="ld" d="M1555 0H2554"/><rect class="c20" x="1615"/><rect class="c16" x="1648"/><rect class="c3" x="1712"/><rect class="c6" x="1786"/><rect class="c3" x="1867"/><rect class="c18" x="1918"/><rect class="c15" x="1965"/><rect class="c8" x="2053"/><rect class="c14" x="2101"/><rect class="c12" x="2457"/></g>
<g id="r74" transform="translate(0,2272)"><path class="ld" d="M1555 0H2523"/><rect class="c20" x="1586"/><rect class="c16" x="1620"/><rect class="c3" x="1685"/><rect class="c5" x="1755"/><rect class="c3" x="1839"/><rect class="c18" x="1887"/><rect class="c15" x="1935"/><rect class="c8" x="2025"/><rect class="c14" x="2071"/><rect class="c12" x="2420"/><rect class="c17 s" x="2468"/></g>
<g id="r75" transform="translate(0,2298)"><path class="lm" d="M1555 0H2583"/><rect class="c20" x="1569"/><rect class="c16" x="1603"/><rect class="c3" x="1666"/><rect class="c6" x="1741"/><rect class="c3" x="1823"/><rect class="c18" x="1872"/><rect class="c15" x="1920"/><rect class="c13 s" x="1959"/><rect class="c8" x="2009"/><rect class="c14" x="2055"/><rect class="c12" x="2478"/></g>
<g id="r76" transform="translate(0,2319)"><path class="ld" d="M1555 0H2088"/><rect class="c20" x="1588"/><rect class="c16" x="1623"/><rect class="c3" x="1685"/><rect class="c6" x="1760"/><rect class="c3" x="1841"/><rect class="c18" x="1890"/><rect class="c15" x="1938"/><rect class="c10 s" x="2025"/></g>
<g id="r77" transform="translate(0,2344)"><path class="lm" d="M1555 0H2621"/><rect class="c9" x="1581"/><rect class="c16" x="1615"/><rect class="c3" x="1677"/><rect class="c5" x="1749"/><rect class="c3" x="1830"/><rect class="c18" x="1882"/><rect class="c15" x="1930"/><rect class="c13" x="1973"/><rect class="c8" x="2021"/><rect class="c14" x="2069"/><rect class="c12" x="2508"/></g>
<g id="r78" transform="translate(0,2376)"><rect class="c20" x="1580"/><rect class="c16" x="1613"/><rect class="c3" x="1677"/><rect class="c5" x="1747"/><rect class="c3" x="1830"/><rect class="c18" x="1880"/><rect class="c15" x="1928"/><rect class="c13" x="1971"/><rect class="c10" x="2019"/><rect class="c14" x="2068"/><rect class="c12" x="2516"/></g>
<g id="r79" transform="translate(0,2408)"><path class="lm" d="M1555 0H2609"/><rect class="c9" x="1581"/><rect class="c16" x="1615"/><rect class="c3" x="1680"/><rect class="c5" x="1749"/><rect class="c3" x="1834"/><rect class="c18" x="1885"/><rect class="c15" x="1932"/><rect class="c13" x="1974"/><rect class="c8" x="2023"/><rect class="c14" x="2076"/><rect class="c12" x="2513"/></g>
<g id="r80" transform="translate(0,2442)"><path class="ld" d="M1555 0H2636"/><rect class="c20" x="1585"/><rect class="c16" x="1618"/><rect class="c3" x="1681"/><rect class="c5" x="1752"/><rect class="c3" x="1836"/><rect class="c18" x="1885"/><rect class="c15" x="1933"/><rect class="c13" x="1976"/><rect class="c8" x="2025"/><rect class="c14" x="2078"/><rect class="c12" x="2516"/></g>
<g id="r81" transform="translate(0,2476)"><path class="lm" d="M1555 0H2636"/><rect class="c9" x="1578"/><rect class="c16" x="1612"/><rect class="c3" x="1675"/><rect class="c6" x="1749"/><rect class="c3" x="1829"/><rect class="c18" x="1880"/><rect class="c15" x="1928"/><rect class="c13" x="1969"/><rect class="c8" x="2019"/><rect class="c14" x="2071"/><rect class="c12" x="2508"/></g>
<g id="r82" transform="translate(0,2506)"><path class="ll" d="M1555 0H2580"/><rect class="c9" x="1585"/><rect class="c16" x="1620"/><rect class="c3" x="1683"/><rect class="c5" x="1748"/><rect class="c3" x="1834"/><rect class="c18" x="1884"/><rect class="c15" x="1932"/><rect class="c13" x="1974"/><rect class="c8" x="2024"/><rect class="c14" x="2070"/><rect class="c12" x="2530"/></g>
<g id="r83" transform="translate(0,2539)"><path class="lm" d="M1555 0H2785"/><rect class="c20" x="1590"/><rect class="c16" x="1625"/><rect class="c3" x="1688"/><rect class="c5" x="1753"/><rect class="c2" x="1839"/><rect class="c18" x="1889"/><rect class="c15" x="1937"/><rect class="c13" x="1979"/><rect class="c8" x="2029"/><rect class="c14" x="2075"/><rect class="c14" x="2135"/><rect class="c12" x="2690"/></g>
<g id="r84" transform="translate(0,2570)"><path class="ld" d="M1555 0H2712"/><rect class="c9" x="1580"/><rect class="c16" x="1615"/><rect class="c3" x="1678"/><rect class="c5" x="1743"/><rect class="c2" x="1829"/><rect class="c18" x="1879"/><rect class="c15" x="1927"/><rect class="c13" x="1969"/><rect class="c8" x="2019"/><rect class="c14" x="2065"/><rect class="c12" x="2618"/></g>
<g id="r85" transform="translate(0,2605)"><path class="ld" d="M1555 0H2855"/><rect class="c20" x="1578"/><rect class="c16" x="1613"/><rect class="c3" x="1676"/><rect class="c6" x="1741"/><rect class="c2" x="1827"/><rect class="c18" x="1877"/><rect class="c15" x="1925"/><rect class="c13" x="1967"/><rect class="c8" x="2017"/><rect class="c14" x="2063"/><rect class="c17 s" x="2389"/><rect class="c12" x="2749"/></g>
<g id="r86" transform="translate(0,2636)"><path class="ll" d="M1555 0H2855"/><rect class="c20" x="1585"/><rect class="c16" x="1620"/><rect class="c3" x="1683"/><rect class="c5" x="1748"/><rect class="c2" x="1834"/><rect class="c18" x="1884"/><rect class="c15" x="1932"/><rect class="c13" x="1974"/><rect class="c10" x="2024"/><rect class="c14" x="2070"/><rect class="c19 s" x="2554"/><rect class="c12" x="2762"/></g>
<g id="r87" transform="translate(0,2669)"><path class="lm" d="M1555 0H2921"/><rect class="c9" x="1590"/><rect class="c16" x="1625"/><rect class="c3" x="1688"/><rect class="c5" x="1753"/><rect class="c2" x="1839"/><rect class="c18" x="1889"/><rect class="c15" x="1937"/><rect class="c13" x="1979"/><rect class="c8" x="2029"/><rect class="c14" x="2075"/><rect class="c14" x="2135"/><rect class="c18 s" x="2481"/><rect class="c12" x="2828"/></g>
<g id="r88" transform="translate(0,2700)"><path class="ld" d="M1555 0H2921"/><rect class="c20" x="1580"/><rect class="c16" x="1615"/><rect class="c3" x="1678"/><rect class="c5" x="1743"/><rect class="c2" x="1829"/><rect class="c18" x="1879"/><rect class="c15" x="1927"/><rect class="c13" x="1969"/><rect class="c8" x="2019"/><rect class="c14" x="2065"/><rect class="c12" x="2804"/></g>
<g id="r89" transform="translate(0,2735)"><path class="ld" d="M1555 0H2921"/><rect class="c20" x="1585"/><rect class="c16" x="1620"/><rect class="c3" x="1683"/><rect class="c5" x="1748"/><rect class="c2" x="1834"/><rect class="c18" x="1884"/><rect class="c15" x="1932"/><rect class="c13" x="1974"/><rect class="c8" x="2024"/><rect class="c14" x="2070"/><rect class="c19 s" x="2321"/><rect class="c12" x="2817"/></g>
</g>
<g class="lg" id="legend">
<rect class="c1" x="3070" y="2066" width="69" height="67.3"/><rect class="c2" x="3070" y="2133.3" width="69" height="67.3"/><rect class="c3" x="3070" y="2200.6" width="69" height="67.3"/><rect class="c4" x="3070" y="2267.9" width="69" height="67.3"/><rect class="c5" x="3070" y="2335.2" width="69" height="67.3"/><rect class="c6" x="3070" y="2402.5" width="69" height="67.3"/><rect class="c7" x="3070" y="2469.8" width="69" height="67.3"/><rect class="c8" x="3070" y="2537.1" width="69" height="67.3"/><rect class="c9" x="3070" y="2604.4" width="69" height="67.3"/><rect class="c10" x="3070" y="2671.7" width="69" height="67.3"/>
<rect class="c11" x="3205" y="2066" width="68" height="67.3"/><rect class="c12" x="3205" y="2133.3" width="68" height="67.3"/><rect class="c13" x="3205" y="2200.6" width="68" height="67.3"/><rect class="c14" x="3205" y="2267.9" width="68" height="67.3"/><rect class="c15" x="3205" y="2335.2" width="68" height="67.3"/><rect class="c16" x="3205" y="2402.5" width="68" height="67.3"/><rect class="c17" x="3205" y="2469.8" width="68" height="67.3"/><rect class="c18" x="3205" y="2537.1" width="68" height="67.3"/><rect class="c19" x="3205" y="2604.4" width="68" height="67.3"/><rect class="c20" x="3205" y="2671.7" width="68" height="67.3"/>
<text x="3150" y="2105">Motif 1</text><text x="3150" y="2172.3">Motif 2</text><text x="3150" y="2239.6">Motif 3</text><text x="3150" y="2306.9">Motif 4</text><text x="3150" y="2374.2">Motif 5</text><text x="3150" y="2441.5">Motif 6</text><text x="3150" y="2508.8">Motif 7</text><text x="3150" y="2576.1">Motif 8</text><text x="3150" y="2643.4">Motif 9</text><text x="3146" y="2710.7">Motif 10</text>
<text x="3287" y="2105">Motif 11</text><text x="3287" y="2172.3">Motif 12</text><text x="3287" y="2239.6">Motif 13</text><text x="3287" y="2306.9">Motif 14</text><text x="3287" y="2374.2">Motif 15</text><text x="3287" y="2441.5">Motif 16</text><text x="3287" y="2508.8">Motif 17</text><text x="3287" y="2576.1">Motif 18</text><text x="3287" y="2643.4">Motif 19</text><text x="3287" y="2710.7">Motif 20</text>
</g>
</svg>
